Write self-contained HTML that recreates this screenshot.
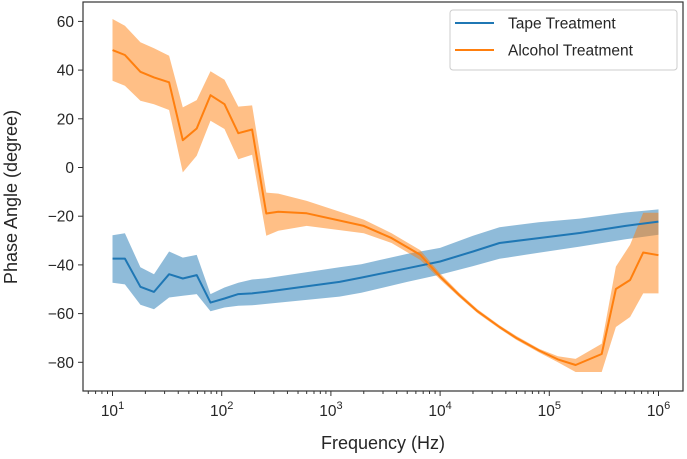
<!DOCTYPE html>
<html><head><meta charset="utf-8"><style>
html,body{margin:0;padding:0;background:#fff;}
svg{display:block;font-family:"Liberation Sans","DejaVu Sans",sans-serif;}
</style></head><body>
<svg id="chart" width="687" height="459" viewBox="0 0 687 459"></svg>
<script>
const tapeFreq = [10,13,18,24,33,44,59,79,106,142,190,256,1200,1900,5000,10000,20000,35000,80000,190000,500000,1000000];
const tapeMean = [-37.4,-37.4,-49,-51.1,-43.8,-45.6,-44.2,-55.5,-53.8,-52,-51.7,-51,-47,-45.2,-41.4,-38.6,-34.5,-31,-29,-26.9,-24,-22.2];
const tapeUpper = [-27.8,-27,-41,-43.8,-34.5,-37,-35.9,-52,-49.3,-47.3,-46,-45.5,-41,-39.7,-35.5,-33,-28,-24.5,-22.5,-21,-18.5,-17.2];
const tapeLower = [-47.3,-48,-56.4,-58.2,-53.4,-52.7,-52,-59,-57.5,-56.8,-56.6,-56,-53,-51.4,-47,-44,-40.5,-37.5,-35,-32.5,-29.5,-27.6];
const alcFreq = [10,13,18,24,33,44,59,79,106,142,190,256,330,600,2000,3600,6600,10000,15000,22000,35000,50000,81000,120000,174000,302000,407000,550000,725000,1000000];
const alcMean = [48.2,46.2,39.3,37,35,11.2,16,29.7,26,14.1,15.6,-18.9,-18.2,-18.8,-24,-29,-35.9,-44.8,-52.4,-59,-65.5,-70,-75.2,-78.8,-81.1,-76.6,-49.9,-46.2,-34.9,-36];
const alcUpper = [61,58.2,51.4,49,45.9,24.7,27.7,39.5,36,25,25.5,-10.3,-10.7,-13.7,-21.4,-27,-34,-43.5,-51.5,-58.2,-64.8,-69.2,-74.5,-77.5,-78.6,-72.4,-40.7,-31.7,-18.6,-18.6];
const alcLower = [35.6,33.6,27.4,26,23.6,-2,4.8,19.2,15.8,3.4,5.2,-28,-26,-24,-27,-31,-38,-46,-53.3,-59.8,-66.2,-70.8,-76,-80,-84,-84,-65.5,-61.4,-51.7,-51.7];
const yTicks = [60,40,20,0,-20,-40,-60,-80];
const xTickExp = [1,2,3,4,5,6];

const svg = document.getElementById('chart');
const NS = 'http://www.w3.org/2000/svg';
const L=83,R=683,T=2,B=391;
function xs(f){return 112.5 + (Math.log10(f)-1)*109.2;}
function ys(v){return 167.5 - v*2.435;}
function mk(tag,attrs,parent){const e=document.createElementNS(NS,tag);for(const k in attrs)e.setAttribute(k,attrs[k]);(parent||svg).appendChild(e);return e;}

function band(fr,up,lo,color,name){
  let d='M'+fr.map((f,i)=>xs(f).toFixed(1)+','+ys(up[i]).toFixed(1)).join('L');
  for(let i=fr.length-1;i>=0;i--) d+='L'+xs(fr[i]).toFixed(1)+','+ys(lo[i]).toFixed(1);
  const p=mk('path',{d:d+'Z',fill:color,'fill-opacity':0.5,stroke:'none'});
  
  
}
function line(fr,m,color,name){
  const p=mk('polyline',{points:fr.map((f,i)=>xs(f).toFixed(1)+','+ys(m[i]).toFixed(1)).join(' '),fill:'none',stroke:color,'stroke-width':2,'stroke-linejoin':'round'});
  
  
}
band(tapeFreq,tapeUpper,tapeLower,'#1f77b4','tape-band');
band(alcFreq,alcUpper,alcLower,'#ff7f0e','alcohol-band');
line(tapeFreq,tapeMean,'#1f77b4','tape-line');
line(alcFreq,alcMean,'#ff7f0e','alcohol-line');

const frame=mk('rect',{x:L,y:T,width:R-L,height:B-T,fill:'none',stroke:'#333','stroke-width':1.2});



yTicks.forEach(v=>{
  const y=ys(v);
  mk('line',{x1:L-5,x2:L,y1:y,y2:y,stroke:'#333','stroke-width':1});
  const t=mk('text',{x:L-9,y:y+5.5,'text-anchor':'end','font-size':15.5,fill:'#262626'});
  t.textContent=(v<0?'\u2212':'')+Math.abs(v);
  
  
});
for(let e=0;e<=6;e++){
  for(let k=1;k<10;k++){
    const f=k*Math.pow(10,e);const x=xs(f);
    if(x<L||x>R)continue;
    mk('line',{x1:x,x2:x,y1:B,y2:B+(k===1?5:3),stroke:'#333','stroke-width':1});
  }
}
xTickExp.forEach(e=>{
  const x=xs(Math.pow(10,e));
  const t=mk('text',{x:x,y:416,'text-anchor':'middle','font-size':15.5,fill:'#262626'});
  t.innerHTML='10<tspan dy="-7" font-size="11">'+e+'</tspan>';
  
  
});
const xl=mk('text',{x:383,y:449,'text-anchor':'middle','font-size':18,fill:'#262626'});
xl.textContent='Frequency (Hz)';


const yl=mk('text',{x:0,y:0,'text-anchor':'middle','font-size':18,fill:'#262626',transform:'translate(17,197) rotate(-90)'});
yl.textContent='Phase Angle (degree)';



const lg=mk('g',{});


mk('rect',{x:450,y:10,width:227,height:60,rx:3,fill:'#fff',stroke:'#ccc','stroke-width':1},lg);
[['Tape Treatment','#1f77b4',23],['Alcohol Treatment','#ff7f0e',50]].forEach(([n,c,y])=>{
  const g=mk('g',{},lg);
  
  
  mk('line',{x1:455,x2:494,y1:y,y2:y,stroke:c,'stroke-width':2},g);
  const t=mk('text',{x:508,y:y+5.5,'font-size':15.5,fill:'#262626'},g);
  t.textContent=n;
});
</script>
</body></html>
